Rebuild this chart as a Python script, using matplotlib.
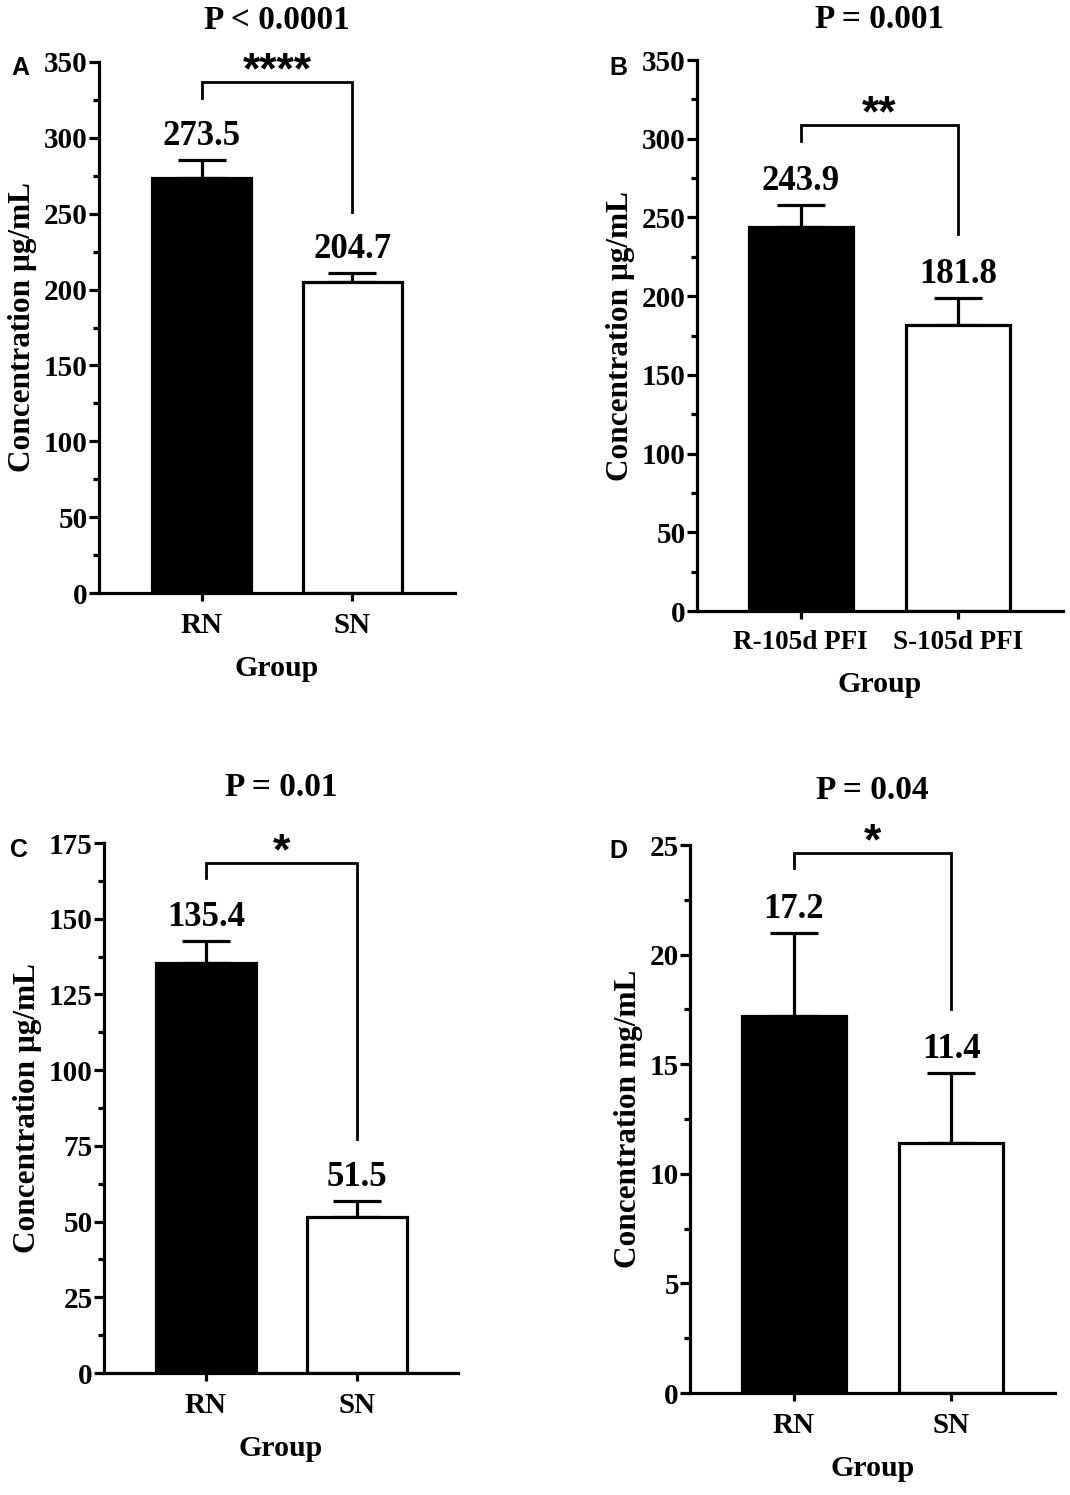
import matplotlib
matplotlib.use('Agg')
import matplotlib.pyplot as plt
import numpy as np

plt.rcParams['font.family'] = ['Liberation Serif', 'DejaVu Serif']
plt.rcParams['font.weight'] = 'bold'
plt.rcParams['axes.labelweight'] = 'bold'
plt.rcParams['axes.titleweight'] = 'bold'

# panel A
groups_a = ['RN', 'SN']
means_a = [273.5, 204.7]
sem_a = [11.9, 6.3]
# panel B
groups_b = ['R-105d PFI', 'S-105d PFI']
means_b = [243.9, 181.8]
sem_b = [14.1, 17.1]
# panel C
groups_c = ['RN', 'SN']
means_c = [135.4, 51.5]
sem_c = [7.2, 5.3]
# panel D
groups_d = ['RN', 'SN']
means_d = [17.2, 11.4]
sem_d = [3.8, 3.2]

p_titles = ['P < 0.0001', 'P = 0.001', 'P = 0.01', 'P = 0.04']
stars = ['****', '**', '*', '*']
ylabels = ['Concentration μg/mL', 'Concentration μg/mL',
           'Concentration μg/mL', 'Concentration mg/mL']

W, H = 1070, 1495
fig = plt.figure(figsize=(W / 100, H / 100), dpi=100)


def px_rect(l, r, t, b):
    return [l / W, 1 - b / H, (r - l) / W, (b - t) / H]


panels = [
    dict(rect=px_rect(99, 455, 62, 593), groups=groups_a, means=means_a, sem=sem_a,
         ymax=350, major=50, minor=25, xlim=(-0.68, 1.68), width=0.66,
         bracket=(337, 326, 251), title_pad=24, letter='A', lpos=(20, 68), tsize=21),
    dict(rect=px_rect(697, 1063, 60, 611), groups=groups_b, means=means_b, sem=sem_b,
         ymax=350, major=50, minor=25, xlim=(-0.66, 1.67), width=0.66,
         bracket=(309, 298.6, 239.5), title_pad=23, letter='B', lpos=(618, 68), tsize=19.5),
    dict(rect=px_rect(104, 458, 843, 1373), groups=groups_c, means=means_c, sem=sem_c,
         ymax=175, major=25, minor=12.5, xlim=(-0.675, 1.67), width=0.66,
         bracket=(168.3, 163.4, 77.2), title_pad=34, letter='C', lpos=(19, 850), tsize=21),
    dict(rect=px_rect(690, 1055, 845, 1393), groups=groups_d, means=means_d, sem=sem_d,
         ymax=25, major=5, minor=2.5, xlim=(-0.66, 1.66), width=0.66,
         bracket=(24.65, 23.96, 17.5), title_pad=33, letter='D', lpos=(618, 851), tsize=21),
]

lw = 2.3
for i, p in enumerate(panels):
    ax = fig.add_axes(p['rect'])
    x = np.arange(len(p['groups']))
    ax.bar(x, p['means'], width=p['width'], color=['black', 'white'],
           edgecolor='black', linewidth=lw, zorder=2)
    ax.errorbar(x, p['means'], yerr=[np.zeros(len(x)), p['sem']], fmt='none',
                ecolor='black', elinewidth=lw, capsize=17, capthick=lw, zorder=1)
    for xi, m, s in zip(x, p['means'], p['sem']):
        ax.annotate(f'{m}', (xi, m + s), xytext=(0, 5), textcoords='offset points',
                    ha='center', va='bottom', fontsize=25, fontweight='bold')

    top, l_end, r_end = p['bracket']
    ax.plot([0, 0, 1, 1], [l_end, top, top, r_end], color='black', lw=2.0,
            clip_on=False, solid_joinstyle='miter')
    ax.annotate(stars[i], (0.5, top), xytext=(0, -1), textcoords='offset points',
                ha='center', va='baseline', fontsize=32, fontweight='bold',
                family='Liberation Sans', annotation_clip=False)

    ax.set_xlim(*p['xlim'])
    ax.set_ylim(0, p['ymax'])
    ax.set_xticks(x)
    ax.set_xticklabels(p['groups'], fontsize=p['tsize'], fontweight='bold')
    ax.set_yticks(np.arange(0, p['ymax'] + 0.01, p['major']))
    ax.set_yticks(np.arange(0, p['ymax'] + 0.01, p['minor']), minor=True)
    for lab in ax.get_yticklabels():
        lab.set_fontsize(21)
        lab.set_fontweight('bold')
    ax.tick_params(axis='y', which='major', length=7, width=lw, pad=1)
    ax.tick_params(axis='y', which='minor', length=4, width=lw)
    ax.tick_params(axis='x', which='major', length=6, width=lw, pad=8)
    for side in ['top', 'right']:
        ax.spines[side].set_visible(False)
    for side in ['left', 'bottom']:
        ax.spines[side].set_linewidth(lw)
    ax.set_ylabel(ylabels[i], fontsize=22.5, fontweight='bold', labelpad=5)
    ax.set_xlabel('Group', fontsize=21.5, fontweight='bold', labelpad=11)
    ax.set_title(p_titles[i], fontsize=24, fontweight='bold', pad=p['title_pad'])
    lx, ly = p['lpos']
    fig.text(lx / W, 1 - ly / H, p['letter'], fontsize=18, fontweight='bold',
             family='Liberation Sans', ha='center', va='center')

fig.savefig('out.png', dpi=100)
